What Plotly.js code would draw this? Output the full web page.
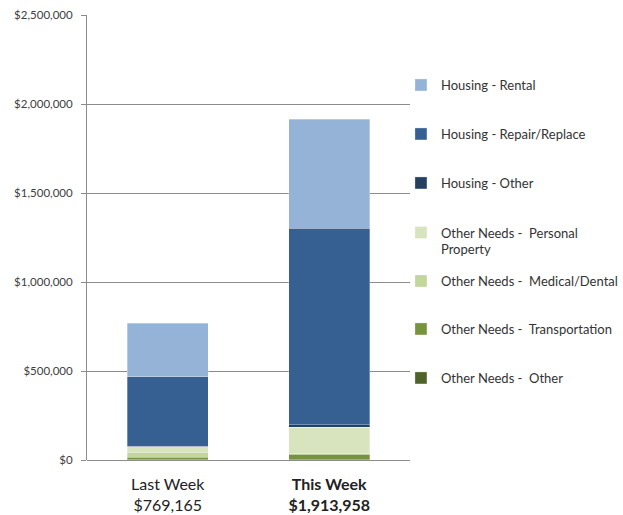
<!DOCTYPE html>
<html>
<head>
<meta charset="utf-8">
<script src="https://cdn.plot.ly/plotly-3.0.1.min.js"></script>
<style>html,body{margin:0;padding:0;background:#fff;}#chart{width:623px;height:515px;}</style>
</head>
<body>
<div id="chart"></div>
<script>
// Categories and tick labels
var categories = ["Last Week", "This Week"];
var tickLabels = ["Last Week<br>$769,165", "<b>This Week</b><br><b>$1,913,958</b>"];

// Series (bottom to top of stack)
var seriesNames = [
  "Other Needs - &nbsp;Other",
  "Other Needs - &nbsp;Transportation",
  "Other Needs - &nbsp;Medical/Dental",
  "Other Needs - &nbsp;Personal<br>Property",
  "Housing - Other",
  "Housing - Repair/Replace",
  "Housing - Rental"
];
var otherNeedsOther      = [3000, 2000];
var otherNeedsTransport  = [13000, 30000];
var otherNeedsMedical    = [27000, 3000];
var otherNeedsPersonal   = [32000, 149000];
var housingOther         = [2000, 13000];
var housingRepair        = [391000, 1106000];
var housingRental        = [301165, 610958];

var seriesValues = [otherNeedsOther, otherNeedsTransport, otherNeedsMedical,
                    otherNeedsPersonal, housingOther, housingRepair, housingRental];
var seriesColors = ["#4F6228", "#77933C", "#C3D69B", "#D7E4BD", "#254061", "#376092", "#95B3D7"];
var legendY = [0.1843, 0.2944, 0.4022, 0.4921, 0.6225, 0.7326, 0.8427];

var traces = [];
var layout = {
  width: 623, height: 515,
  margin: {l: 87, r: 213, t: 15, b: 55, autoexpand: false},
  paper_bgcolor: "#ffffff", plot_bgcolor: "#ffffff",
  barmode: "stack", bargap: 0.5,
  font: {family: "Lato, 'Liberation Sans', sans-serif", color: "#404040", size: 11},
  xaxis: {
    tickmode: "array", tickvals: categories, ticktext: tickLabels,
    tickfont: {size: 16, color: "#222"}, ticklabelstandoff: 13,
    showline: false, ticks: "", showgrid: false, zeroline: false,
    range: [-0.5, 1.5], automargin: false
  },
  yaxis: {
    range: [0, 2500000], dtick: 500000, tick0: 0,
    tickprefix: "$", tickformat: ",d",
    showgrid: true, gridcolor: "#8c8c8c", gridwidth: 1,
    zeroline: true, zerolinecolor: "#8c8c8c", zerolinewidth: 1,
    showline: true, linecolor: "#8c8c8c", linewidth: 1,
    ticks: "outside", ticklen: 5, tickcolor: "#8c8c8c",
    ticklabelstandoff: 6, automargin: false,
    tickfont: {size: 11.5, color: "#404040"}
  },
  showlegend: true
};

for (var i = 0; i < seriesNames.length; i++) {
  var lg = i === 0 ? "legend" : "legend" + (i + 1);
  traces.push({
    type: "bar", x: categories, y: seriesValues[i], name: seriesNames[i],
    marker: {color: seriesColors[i], line: {width: 0.6, color: "rgba(255,255,255,0.5)"}},
    legend: lg, hoverinfo: "skip"
  });
  layout[lg] = {
    x: 0.972, xanchor: "left", y: legendY[i], yanchor: "middle",
    bgcolor: "rgba(0,0,0,0)", borderwidth: 0, valign: "top",
    font: {size: 13, color: "#333"}
  };
}

Plotly.newPlot("chart", traces, layout, {staticPlot: true, displayModeBar: false});
</script>
</body>
</html>
